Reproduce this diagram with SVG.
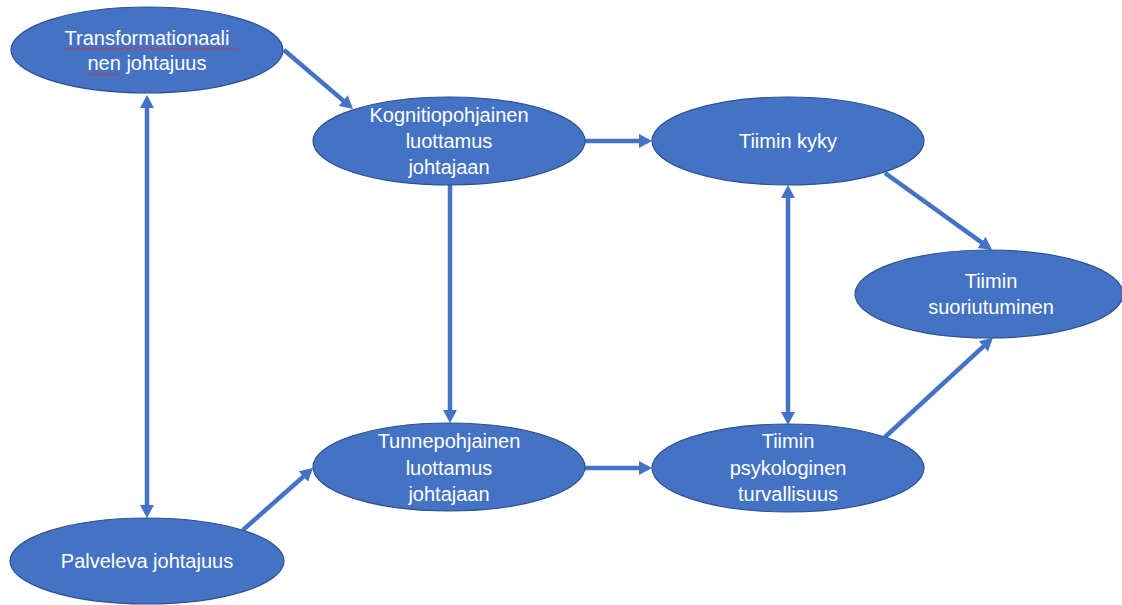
<svg xmlns="http://www.w3.org/2000/svg" width="1122" height="605" viewBox="0 0 1122 605">
<style>
.node ellipse{fill:#4472C4;stroke:#2F528F;stroke-width:1.2}
.node text{fill:#FFFFFF;font-family:"Liberation Sans","Open Sans",Arial,sans-serif;font-size:20px;text-anchor:middle}
.conn line{stroke:#4472C4;stroke-width:4.5;fill:none}
.spell{stroke:#E03030;stroke-width:1;fill:none}
</style>
<defs>
<marker id="ah" markerUnits="userSpaceOnUse" markerWidth="13" markerHeight="15" refX="9" refY="7.5" orient="auto-start-reverse" viewBox="0 0 13 15">
<path d="M0,0.5 L13,7.5 L0,14.5 z" fill="#4472C4"/>
</marker>
</defs>
<rect width="1122" height="605" fill="#FFFFFF"/>
<g id="connectors" class="conn">
<line x1="284" y1="50" x2="350" y2="106.4" marker-end="url(#ah)"/>
<line x1="147" y1="99" x2="147" y2="514" marker-start="url(#ah)" marker-end="url(#ah)"/>
<line x1="585" y1="141" x2="648" y2="141" marker-end="url(#ah)"/>
<line x1="450" y1="185" x2="450" y2="419" marker-end="url(#ah)"/>
<line x1="243" y1="530" x2="310" y2="470.7" marker-end="url(#ah)"/>
<line x1="585" y1="468" x2="648" y2="468" marker-end="url(#ah)"/>
<line x1="788" y1="189" x2="788" y2="421" marker-start="url(#ah)" marker-end="url(#ah)"/>
<line x1="885" y1="173" x2="988.8" y2="247.7" marker-end="url(#ah)"/>
<line x1="885" y1="437" x2="990" y2="340.3" marker-end="url(#ah)"/>
</g>
<g id="transformationaalinen" class="node">
<ellipse cx="147" cy="50" rx="136" ry="43"/>
<text x="147" y="45">Transformationaali</text>
<text x="147" y="70">nen johtajuus</text>
<path class="spell" d="M64,48.5 q1.5,-2 3,0 t3,0 t3,0 t3,0 t3,0 t3,0 t3,0 t3,0 t3,0 t3,0 t3,0 t3,0 t3,0 t3,0 t3,0 t3,0 t3,0 t3,0 t3,0 t3,0 t3,0 t3,0 t3,0 t3,0 t3,0 t3,0 t3,0 t3,0 t3,0 t3,0 t3,0 t3,0 t3,0 t3,0 t3,0 t3,0 t3,0 t3,0 t3,0 t3,0 t3,0 t3,0 t3,0 t3,0 t3,0 t3,0 t3,0 t3,0 t3,0 t3,0 t3,0 t3,0 t3,0 t3,0 t3,0 t3,0 t3,0 t3,0"/>
<path class="spell" d="M87,74.5 q1.5,-2 3,0 t3,0 t3,0 t3,0 t3,0 t3,0 t3,0 t3,0 t3,0 t3,0 t3,0"/>
</g>
<g id="kognitiopohjainen" class="node">
<ellipse cx="449" cy="141" rx="136" ry="44"/>
<text x="449" y="122">Kognitiopohjainen</text>
<text x="449" y="148">luottamus</text>
<text x="449" y="174">johtajaan</text>
</g>
<g id="tiimin-kyky" class="node">
<ellipse cx="788" cy="141" rx="136" ry="44"/>
<text x="788" y="148">Tiimin kyky</text>
</g>
<g id="tiimin-suoriutuminen" class="node">
<ellipse cx="989" cy="294" rx="134" ry="44"/>
<text x="991" y="288">Tiimin</text>
<text x="991" y="314">suoriutuminen</text>
</g>
<g id="tunnepohjainen" class="node">
<ellipse cx="449" cy="467" rx="136" ry="44"/>
<text x="449" y="448">Tunnepohjainen</text>
<text x="449" y="475">luottamus</text>
<text x="449" y="501">johtajaan</text>
</g>
<g id="psykologinen-turvallisuus" class="node">
<ellipse cx="788" cy="468" rx="136" ry="44"/>
<text x="788" y="448">Tiimin</text>
<text x="788" y="475">psykologinen</text>
<text x="788" y="501">turvallisuus</text>
</g>
<g id="palveleva" class="node">
<ellipse cx="147" cy="561" rx="137" ry="43"/>
<text x="147" y="568">Palveleva johtajuus</text>
</g>
</svg>
